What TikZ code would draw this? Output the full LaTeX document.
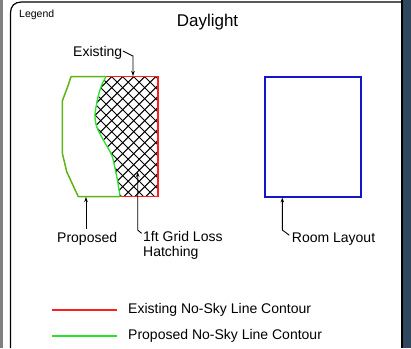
\documentclass[tikz,border=0pt]{standalone}
\usepackage{fontspec}
\setmainfont{Liberation Sans}
\usepackage{xcolor}
\usepackage{tikz}
\usetikzlibrary{arrows.meta}
\definecolor{SkyRed}{RGB}{255,30,30}
\definecolor{SkyGreen}{RGB}{40,225,40}
\definecolor{OliveGreen}{RGB}{95,180,20}
\definecolor{RoomBlue}{RGB}{20,20,200}
\definecolor{EdgeGray}{RGB}{128,128,128}
\definecolor{PanelSlate}{RGB}{48,72,94}
\tikzset{
  frameline/.style={draw=black, line width=1.2pt},
  lbl/.style={font=\fontsize{14}{15}\selectfont, inner sep=0pt, text=black},
  lead/.style={draw=black, line width=0.9pt, -{Stealth[length=5pt,width=3.5pt]}},
  hatch/.style={draw=black, line width=0.95pt},
  exline/.style={draw=SkyRed, line width=1.5pt},
  propline/.style={draw=SkyGreen, line width=1.3pt},
  propouter/.style={draw=OliveGreen, line width=1.5pt, line join=round},
  room/.style={rectangle, draw=RoomBlue, line width=2pt, fill=none,
    minimum width=95.7pt, minimum height=120.2pt, inner sep=0pt}
}

\begin{document}
\begin{tikzpicture}[x=1pt, y=-1pt]
  \useasboundingbox (0,0) rectangle (411,348);

  % Window edges and frame
  \fill[EdgeGray] (0,0) rectangle (3,348);
  \fill[PanelSlate] (403,0) rectangle (411,348);
  \draw[frameline] (10.5,348) -- (10.5,13) .. controls (10.5,6) and (14.5,2) .. (21.5,2) -- (402,2);
  \draw[frameline] (402,0) -- (402,348);

  % Titles
  \node[font=\fontsize{10.5}{12}\selectfont, anchor=base west, inner sep=0pt] (legTitle) at (19,17.3) {Legend};
  \node[font=\fontsize{17}{20}\selectfont, anchor=base, inner sep=0pt] (dayTitle) at (207.5,26.7) {Daylight};

  % Loss hatching
  \begin{scope}
    \clip plot[smooth] coordinates {(106,76.7) (101.7,85) (97.7,98.3) (95,115) (96.7,126.7)
      (103.3,140) (111.7,155) (115,168.3) (117.7,181.7) (120,196.7)}
      -- (158,196.7) -- (158,76.7) -- cycle;
    \foreach \c in {-97,-86,...,100}
      \draw[hatch] (\c+70,70) -- (\c+205,205);
    \foreach \c in {166.4,177.4,...,370}
      \draw[hatch] (\c-70,70) -- (\c-205,205);
  \end{scope}

  % Contours
  \draw[exline] (106,76.7) -- (158,76.7) -- (158,196.7) -- (120,196.7);
  \draw[propouter] (106,76.7) -- (71,76.7) -- (68.3,85) -- (63.3,98.3) -- (62.3,101)
    -- (62.3,153) -- (66.7,171.7) -- (78.3,196.7) -- (120,196.7);
  \draw[propline] plot[smooth] coordinates {(106,76.7) (101.7,85) (97.7,98.3) (95,115) (96.7,126.7)
      (103.3,140) (111.7,155) (115,168.3) (117.7,181.7) (120,196.7)};

  % Room
  \node[room] (roomBox) at (312.85,136.6) {};

  % Labels
  \node[lbl, anchor=base west] (exLbl) at (73,56.7) {Existing};
  \node[lbl, anchor=base west] (propLbl) at (57,242.3) {Proposed};
  \node[lbl, anchor=north west, align=left] (gridLbl) at (143,231) {1ft Grid Loss\\Hatching};
  \node[lbl, anchor=base west] (roomLbl) at (291.7,242) {Room Layout};

  \coordinate (exBend) at (133,56);
  \coordinate (exTip) at (133,76);
  \coordinate (propTip) at (86,197);
  \coordinate (gridBend) at (137.7,230);
  \coordinate (gridTip) at (137.7,172);
  \coordinate (roomBend) at (282.3,230);
  \coordinate (roomTip) at (282.3,197.5);

  % Leaders
  \draw[lead] ([xshift=0.5pt,yshift=2pt]exLbl.east) -- (exBend) -- (exTip);
  \draw[lead, shorten <=3pt] (propLbl.north -| propTip) -- (propTip);
  \draw[lead] ([xshift=-1.5pt,yshift=-2.3pt]gridLbl.north west) -- (gridBend) -- (gridTip);
  \draw[lead] ([xshift=-2.4pt,yshift=-3pt]roomLbl.north west) -- (roomBend) -- (roomTip);

  % Key
  \coordinate (keyExA) at (52,310);
  \coordinate (keyExB) at (117,310);
  \coordinate (keyPrA) at (52,336);
  \coordinate (keyPrB) at (117,336);
  \draw[exline] (keyExA) -- (keyExB);
  \draw[propline, line width=1.5pt] (keyPrA) -- (keyPrB);
  \node[lbl, anchor=base west] (keyExLbl) at (128,313.3) {Existing No-Sky Line Contour};
  \node[lbl, anchor=base west] (keyPrLbl) at (128,339) {Proposed No-Sky Line Contour};
\end{tikzpicture}
\end{document}
